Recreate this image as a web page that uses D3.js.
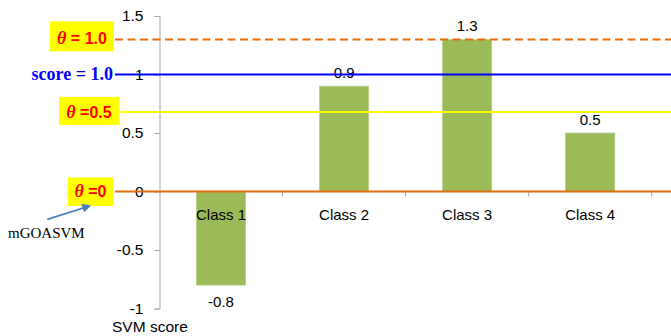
<!DOCTYPE html>
<html>
<head>
<meta charset="utf-8">
<script src="https://cdn.jsdelivr.net/npm/d3@7"></script>
<style>
  html, body { margin: 0; padding: 0; background: #fff; }
  svg { display: block; }
</style>
</head>
<body>
<svg id="chart" width="671" height="336"></svg>
<script>
// Classes and their SVM scores
const classes = ["Class 1", "Class 2", "Class 3", "Class 4"];
const scores = [-0.8, 0.9, 1.3, 0.5];

// Y-axis ticks
const yTicks = [-1, -0.5, 0, 0.5, 1, 1.5];
const yTickLabels = ["-1", "-0.5", "0", "0.5", "1", "1.5"];

// Reference lines, placed on the score axis
const refNames = ["theta10", "score10", "theta05", "theta0"];
const refValues = [1.3, 1.0, 0.68, 0];

const svg = d3.select("#chart");
const sans = "'Liberation Sans', Arial, sans-serif";
const serif = "'Liberation Serif', 'Times New Roman', serif";

const x = d3.scaleBand().domain(classes).range([159.5, 651.7])
  .paddingInner(0.6).paddingOuter(0.3);
const y = d3.scaleLinear().domain([-1, 1.5]).range([308.5, 16]);

// Bars
svg.append("g").selectAll("rect").data(classes).join("rect")
  .attr("x", d => x(d))
  .attr("width", x.bandwidth())
  .attr("y", (d, i) => y(Math.max(0, scores[i])))
  .attr("height", (d, i) => Math.abs(y(scores[i]) - y(0)))
  .attr("fill", "#9bbb59")
  .attr("stroke", "#b9d08a")
  .attr("stroke-width", 0.8);

// Y axis
const yAxis = d3.axisLeft(y).tickValues(yTicks)
  .tickFormat((d, i) => yTickLabels[i]).tickSize(5).tickPadding(11);
const gy = svg.append("g").attr("transform", "translate(159.5,0)").call(yAxis);
gy.select(".domain").attr("stroke", "#a6a6a6");
gy.selectAll(".tick line").attr("stroke", "#a6a6a6");
gy.selectAll(".tick text").attr("font-family", sans).attr("font-size", 15.5)
  .attr("fill", "#000");

// X axis at zero
const gx = svg.append("g").attr("transform", `translate(0,${y(0)})`);
gx.append("line").attr("x1", 159.5).attr("x2", 651.7).attr("y1", 0).attr("y2", 0)
  .attr("stroke", "#a6a6a6");
const boundaries = classes.map(c => x(c) + x.bandwidth() / 2 + x.step() / 2);
gx.selectAll(".bt").data(boundaries).join("line")
  .attr("x1", d => d).attr("x2", d => d).attr("y1", 0).attr("y2", 5)
  .attr("stroke", "#a6a6a6");
gx.selectAll(".cl").data(classes).join("text")
  .attr("x", d => x(d) + x.bandwidth() / 2)
  .attr("y", 28.5)
  .attr("text-anchor", "middle")
  .attr("font-family", sans).attr("font-size", 15)
  .text(d => d);

// Value labels
svg.append("g").selectAll("text").data(classes).join("text")
  .attr("x", d => x(d) + x.bandwidth() / 2)
  .attr("y", (d, i) => scores[i] >= 0 ? y(scores[i]) - 8.5 : y(scores[i]) + 22)
  .attr("text-anchor", "middle")
  .attr("font-family", sans).attr("font-size", 15)
  .text((d, i) => String(scores[i]));

// Reference lines
const refStyle = {
  theta10: { color: "#e46c0a", dash: "8,4.5", x0: 115 },
  score10: { color: "#0000ff", dash: null, x0: 115 },
  theta05: { color: "#ffff00", dash: null, x0: 119 },
  theta0: { color: "#e46c0a", dash: null, x0: 115 }
};
refNames.forEach((n, i) => {
  const s = refStyle[n];
  svg.append("line")
    .attr("x1", s.x0).attr("x2", 671)
    .attr("y1", y(refValues[i])).attr("y2", y(refValues[i]))
    .attr("stroke", s.color).attr("stroke-width", 2)
    .attr("stroke-dasharray", s.dash);
});

// Yellow theta labels
const thetaLabels = [
  { text: " = 1.0", value: 1.3, box: [50, 114], h: [-18, 12], base: 4.5 },
  { text: " =0.5", value: 0.68, box: [59, 119], h: [-15, 13], base: 6 },
  { text: " =0", value: 0, box: [68, 113], h: [-14, 14.5], base: 5.5 }
];
thetaLabels.forEach(t => {
  const cy = y(t.value);
  svg.append("rect")
    .attr("x", t.box[0]).attr("y", cy + t.h[0])
    .attr("width", t.box[1] - t.box[0]).attr("height", t.h[1] - t.h[0])
    .attr("fill", "#ffff00");
  const txt = svg.append("text")
    .attr("x", (t.box[0] + t.box[1]) / 2)
    .attr("y", cy + t.base)
    .attr("text-anchor", "middle")
    .attr("fill", "#ff0000").attr("font-weight", "bold");
  txt.append("tspan").attr("font-family", serif).attr("font-style", "italic")
    .attr("font-size", 18).text("θ");
  txt.append("tspan").attr("font-family", sans).attr("font-size", 16)
    .text(t.text);
});

// score = 1.0 label
svg.append("text")
  .attr("x", 113).attr("y", y(1) + 5.5)
  .attr("text-anchor", "end")
  .attr("font-family", serif).attr("font-weight", "bold").attr("font-size", 18)
  .attr("fill", "#0000ff")
  .text("score = 1.0");

// mGOASVM annotation with arrow
const defs = svg.append("defs");
defs.append("marker").attr("id", "arrowhead")
  .attr("viewBox", "0 0 10 10").attr("refX", 8).attr("refY", 5)
  .attr("markerWidth", 5).attr("markerHeight", 5).attr("orient", "auto")
  .append("path").attr("d", "M0,0 L10,5 L0,10 Z").attr("fill", "#4a7ebb");
svg.append("line")
  .attr("x1", 47.3).attr("y1", 219.3).attr("x2", 89.5).attr("y2", 206)
  .attr("stroke", "#4a7ebb").attr("stroke-width", 1.8)
  .attr("marker-end", "url(#arrowhead)");
svg.append("text")
  .attr("x", 8).attr("y", 237.7)
  .attr("font-family", serif).attr("font-size", 15)
  .text("mGOASVM");

// Axis title
svg.append("text")
  .attr("x", 112).attr("y", 331.5)
  .attr("font-family", sans).attr("font-size", 15.5)
  .text("SVM score");
</script>
</body>
</html>
